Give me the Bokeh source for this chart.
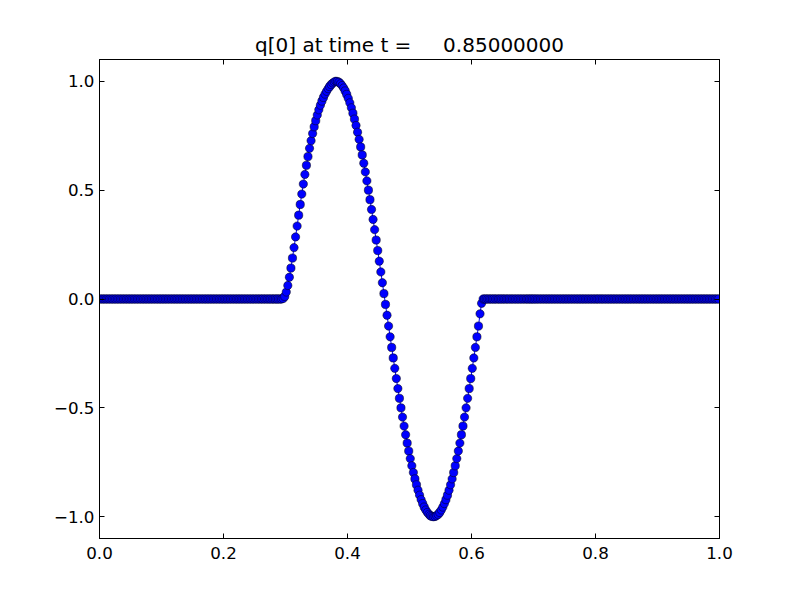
from bokeh.plotting import figure
from bokeh.models import Range1d, LinearAxis, FixedTicker, CustomJSTickFormatter, ColumnDataSource
from bokeh.embed import file_html
from bokeh.resources import INLINE

# ---- data ----
title_text = "q[0] at time t =\u00a0\u00a0\u00a0\u00a0\u00a00.85000000"
n_cells = 400
x_lower, x_upper = 0.0, 1.0

q_left_zeros = [0.0] * 118
q_rise = [0.003, 0.012, 0.032, 0.062, 0.100, 0.142, 0.188, 0.236, 0.285, 0.335,
          0.385, 0.434, 0.482, 0.528, 0.572, 0.614, 0.654, 0.692, 0.727, 0.760,
          0.791, 0.819, 0.845, 0.869, 0.890, 0.909, 0.926, 0.941, 0.954, 0.966,
          0.976, 0.985, 0.992, 0.997]
q_swing = [1.0, 0.9988, 0.9950, 0.9888, 0.9802, 0.9691, 0.9556, 0.9397, 0.9215, 0.9010,
           0.8782, 0.8533, 0.8262, 0.7971, 0.7660, 0.7331, 0.6982, 0.6617, 0.6235, 0.5837,
           0.5425, 0.5000, 0.4562, 0.4113, 0.3653, 0.3185, 0.2708, 0.2225, 0.1736, 0.1243,
           0.0747, 0.0249, -0.0249, -0.0747, -0.1243, -0.1736, -0.2225, -0.2708, -0.3185, -0.3653,
           -0.4113, -0.4562, -0.5000, -0.5425, -0.5837, -0.6235, -0.6617, -0.6982, -0.7331, -0.7660,
           -0.7971, -0.8262, -0.8533, -0.8782, -0.9010, -0.9215, -0.9397, -0.9556, -0.9691, -0.9802,
           -0.9888, -0.9950, -0.9988, -1.0]
q_return = [-0.9988, -0.9950, -0.9888, -0.9802, -0.9691, -0.9556, -0.9397, -0.9215, -0.9010, -0.8782,
            -0.8533, -0.8262, -0.7971, -0.7660, -0.7331, -0.6982, -0.6617, -0.6235, -0.5837, -0.5425,
            -0.5000, -0.4562, -0.4113, -0.3653, -0.3185, -0.2708, -0.2225, -0.1736, -0.1243, -0.0680,
            -0.0200]
q_right_zeros = [0.0] * 153

x_ticks = [0.0, 0.2, 0.4, 0.6, 0.8, 1.0]
y_ticks = [-1.0, -0.5, 0.0, 0.5, 1.0]

q = q_left_zeros + q_rise + q_swing + q_return + q_right_zeros
dx = (x_upper - x_lower) / n_cells
x = [x_lower + (i + 0.5) * dx for i in range(n_cells)]

src = ColumnDataSource(data=dict(x=x, q=q))

FONT = "DejaVu Sans"

p = figure(width=792, height=592, output_backend="svg", toolbar_location=None,
           x_range=Range1d(0.0, 1.0), y_range=Range1d(-1.1, 1.1),
           min_border_left=99, min_border_right=73, min_border_top=59, min_border_bottom=54,
           x_axis_type=None, y_axis_type=None)
p.title.text = title_text
p.title.text_font = FONT
p.title.text_font_size = "20px"
p.title.text_font_style = "normal"
p.title.text_color = "black"
p.title.align = "center"
p.title.standoff = 5

p.background_fill_color = "white"
p.border_fill_color = "white"
p.outline_line_color = "black"
p.outline_line_width = 1
p.grid.visible = False


def style_axis(ax, show_labels):
    ax.axis_line_color = "black"
    ax.axis_line_width = 1
    ax.major_tick_in = 5
    ax.major_tick_out = 0
    ax.major_tick_line_color = "black"
    ax.major_tick_line_width = 1
    ax.minor_tick_line_color = None
    ax.major_label_text_font = FONT
    ax.major_label_text_font_size = "16.7px" if show_labels else "0px"
    ax.major_label_text_color = "black"


fmt = CustomJSTickFormatter(code="return tick.toFixed(1).replace('-', '\\u2212');")
blank = CustomJSTickFormatter(code="return '';")

xb = LinearAxis(ticker=FixedTicker(ticks=x_ticks), formatter=fmt)
style_axis(xb, True)
xb.major_label_standoff = 8
p.add_layout(xb, "below")

yl = LinearAxis(ticker=FixedTicker(ticks=y_ticks), formatter=fmt)
style_axis(yl, True)
yl.major_label_standoff = 5
p.add_layout(yl, "left")

xt = LinearAxis(ticker=FixedTicker(ticks=x_ticks), formatter=blank)
style_axis(xt, False)
xt.major_label_standoff = 0
p.add_layout(xt, "above")

yr = LinearAxis(ticker=FixedTicker(ticks=y_ticks), formatter=blank)
style_axis(yr, False)
yr.major_label_standoff = 0
p.add_layout(yr, "right")

p.line("x", "q", source=src, line_color="#0000ff", line_width=1)
p.scatter("x", "q", source=src, size=8.3, marker="circle",
          fill_color="#0000ff", line_color="black", line_width=0.5)

open("out.html", "w").write(file_html(p, INLINE))
